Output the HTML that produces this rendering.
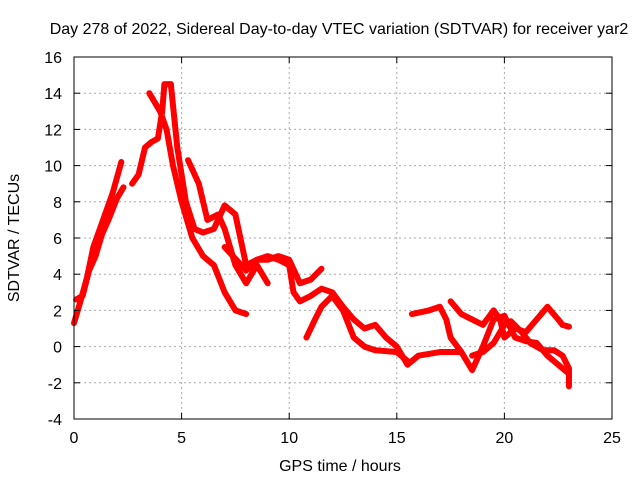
<!DOCTYPE html>
<html><head><meta charset="utf-8"><style>
body{margin:0;background:#fff}
svg text{font-family:"Liberation Sans",sans-serif;font-size:16px;fill:#000}
</style></head><body>
<svg id="chart" width="640" height="480">
<g id="grid"></g>
<g id="series"></g>
<rect x="74" y="57" width="538" height="362" fill="none" stroke="#000"/>
<g id="axes"></g>
<text x="339" y="34" text-anchor="middle">Day 278 of 2022, Sidereal Day-to-day VTEC variation (SDTVAR) for receiver yar2</text>
<text x="340" y="471" text-anchor="middle">GPS time / hours</text>
<text x="19" y="238" text-anchor="middle" transform="rotate(-90 19 238)">SDTVAR / TECUs</text>
</svg>
<script>
const xTicks=[0,5,10,15,20,25];
const yTicks=[-4,-2,0,2,4,6,8,10,12,14,16];
const strandRise=[[0,1.3],[0.3,2.5],[0.6,3.8],[0.9,5.5],[1.2,6.5],[1.5,7.5],[1.8,8.5],[2.2,10.2]];
const strandRise2=[[0.1,2.6],[0.4,2.8],[0.7,4.2],[1.0,5],[1.3,6.2],[1.6,7],[2.0,8.2],[2.3,8.8]];
const strandPeak=[[2.7,9],[3.0,9.5],[3.3,11],[3.6,11.3],[3.9,11.5],[4.1,13],[4.2,14.5],[4.5,14.5]];
const strand1=[[3.5,14],[4,13],[4.3,12],[4.6,10],[5,8],[5.5,6],[6,5],[6.5,4.5],[7,3],[7.5,2],[8,1.8]];
const strand2=[[4.5,14.5],[4.8,11],[5.2,8],[5.6,6.5],[6,6.3],[6.5,6.5],[7,7.8],[7.5,7.3],[8,4.5],[8.5,4.8],[9,5],[9.5,4.8],[10,4.5],[10.2,3],[10.5,2.5],[11,2.8],[11.5,3.2],[12,3],[12.5,2.2],[13,1.5],[13.5,1],[14,1.2],[14.5,0.5],[15,0],[15.5,-1],[16,-0.5],[17,-0.3],[18,-0.3],[18.5,-1.3],[19,0],[19.5,1.5],[20,1.7],[20.5,0.5],[21,0.3],[21.5,0.2],[22,-0.5],[22.5,-1],[23,-1.5]];
const strand3=[[5.3,10.3],[5.8,9],[6.2,7],[6.7,7.3],[7,6.5],[7.5,4.5],[8,3.5],[8.5,4.5],[9,3.5]];
const strand3b=[[7,5.5],[8,4.2],[8.5,4.8],[9,4.8],[9.5,5],[10,4.8],[10.5,3.5],[11,3.7],[11.5,4.3]];
const strand4=[[10.8,0.5],[11.2,1.5],[11.5,2.2],[12,2.8],[12.5,2],[13,0.5],[13.5,0],[14,-0.2],[15,-0.3],[15.5,-0.8]];
const strand5=[[15.7,1.8],[16.5,2],[17,2.2],[17.3,1.5],[17.5,0.5],[18,-0.3]];
const strand6=[[17.5,2.5],[18,1.8],[18.5,1.5],[19,1.2],[19.5,2],[19.8,1.5],[20,0.5],[20.5,1],[21,0.8],[21.5,1.5],[22,2.2],[22.5,1.5],[22.7,1.2],[23,1.1]];
const strand7=[[18.5,-0.5],[19,-0.3],[19.5,0.2],[20,1.2],[20.3,1.4],[20.8,0.8],[21.2,0.2],[21.8,-0.2],[22.3,-0.2],[22.7,-0.5],[23,-1.2],[23,-2.2]];
const allStrands=[strandRise,strandRise2,strandPeak,strand1,strand2,strand3,strand3b,strand4,strand5,strand6,strand7];

const X=v=>74+(v-0)/25*538;
const Y=v=>419-(v+4)/20*362;
const NS="http://www.w3.org/2000/svg";
const grid=document.getElementById('grid'),axes=document.getElementById('axes'),ser=document.getElementById('series');
function mk(tag,attrs,parent){const e=document.createElementNS(NS,tag);for(const k in attrs)e.setAttribute(k,attrs[k]);parent.appendChild(e);return e;}
xTicks.forEach(t=>{
  const x=X(t);
  if(t>0&&t<25){const g=mk('line',{x1:x,x2:x,y1:57,y2:419,stroke:'#aaa','stroke-dasharray':'2,3'},grid);
  
  }
  mk('line',{x1:x,x2:x,y1:419,y2:413,stroke:'#000'},axes);
  mk('line',{x1:x,x2:x,y1:57,y2:63,stroke:'#000'},axes);
  const tx=mk('text',{x:x,y:443,'text-anchor':'middle'},axes);tx.textContent=t;
  
  
});
yTicks.forEach(t=>{
  const y=Y(t);
  if(t>-4&&t<16){const g=mk('line',{x1:74,x2:612,y1:y,y2:y,stroke:'#aaa','stroke-dasharray':'2,3'},grid);
  
  }
  mk('line',{x1:74,x2:80,y1:y,y2:y,stroke:'#000'},axes);
  mk('line',{x1:606,x2:612,y1:y,y2:y,stroke:'#000'},axes);
  const tx=mk('text',{x:62,y:y+6,'text-anchor':'end'},axes);tx.textContent=t;
  
  
});
allStrands.forEach(s=>{
  const p=mk('polyline',{points:s.map(d=>X(d[0])+','+Y(d[1])).join(' '),fill:'none',stroke:'#f00','stroke-width':6,'stroke-linejoin':'round','stroke-linecap':'round'},ser);
  
  
});
</script>
</body></html>
